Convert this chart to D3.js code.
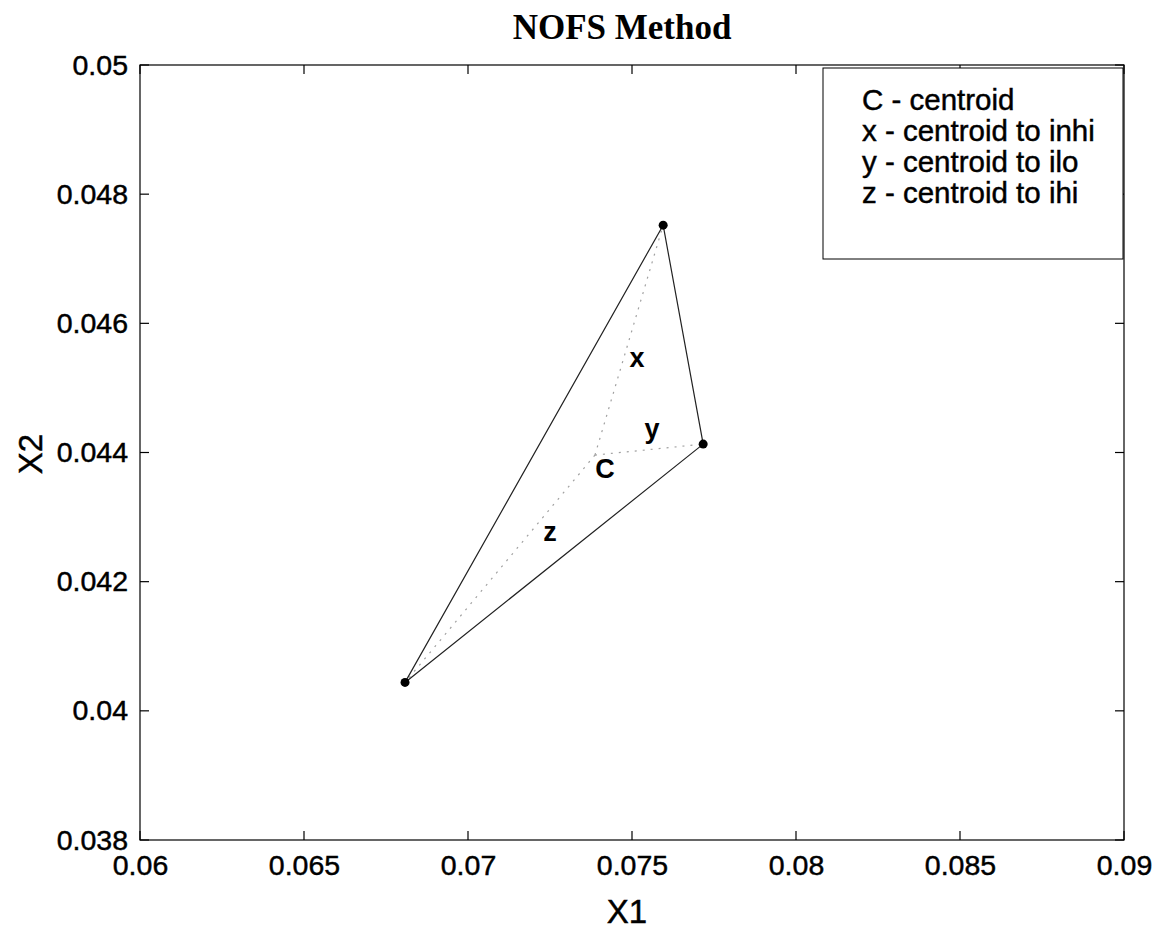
<!DOCTYPE html>
<html>
<head>
<meta charset="utf-8">
<script src="https://cdn.jsdelivr.net/npm/d3@7"></script>
<style>
  html, body { margin: 0; padding: 0; background: #fff; }
  svg { display: block; }
</style>
</head>
<body>
<svg id="chart" width="1160" height="931"></svg>
<script>
// ---- data ----
const xTicks = [0.06, 0.065, 0.07, 0.075, 0.08, 0.085, 0.09];
const yTicks = [0.038, 0.04, 0.042, 0.044, 0.046, 0.048, 0.05];
const xTickLabels = ["0.06", "0.065", "0.07", "0.075", "0.08", "0.085", "0.09"];
const yTickLabels = ["0.038", "0.04", "0.042", "0.044", "0.046", "0.048", "0.05"];
// simplex vertices: inhi (top), ilo (right), ihi (bottom-left)
const vertexNames = ["inhi", "ilo", "ihi"];
const vertexX = [0.07595, 0.07717, 0.06808];
const vertexY = [0.04752, 0.04413, 0.04044];
const centroid = [0.07387, 0.04396];
const markLabels = ["x", "y", "z", "C"];
const markLabelX = [0.07515, 0.07561, 0.0725, 0.07418];
const markLabelY = [0.04532, 0.04422, 0.04263, 0.04361];
const legendLines = ["C - centroid", "x - centroid to inhi", "y - centroid to ilo", "z - centroid to ihi"];
const title = "NOFS Method";
const xLabel = "X1";
const yLabel = "X2";

// ---- layout ----
const L = 140, R = 1124, T = 65, B = 840;
const svg = d3.select("#chart");
const x = d3.scaleLinear().domain([0.06, 0.09]).range([L, R]);
const y = d3.scaleLinear().domain([0.038, 0.05]).range([B, T]);
const sans = "Arial, 'Liberation Sans', Helvetica, sans-serif";
const heavy = sel => sel.attr("stroke", "#000").attr("stroke-width", 0.45);

// axes frame
svg.append("rect").attr("x", L).attr("y", T).attr("width", R - L).attr("height", B - T)
  .attr("fill", "none").attr("stroke", "#000").attr("stroke-width", 1.2);

const tickLen = 9;
const xAxis = d3.axisBottom(x).tickValues(xTicks).tickSize(0).tickPadding(15)
  .tickFormat((d, i) => xTickLabels[i]);
const gx = svg.append("g").attr("transform", `translate(0,${B})`).call(xAxis);
gx.select(".domain").remove();
gx.selectAll("text").attr("font-family", sans).attr("font-size", 28.5).attr("fill", "#000").call(heavy);

const yAxis = d3.axisLeft(y).tickValues(yTicks).tickSize(0).tickPadding(12)
  .tickFormat((d, i) => yTickLabels[i]);
const gy = svg.append("g").attr("transform", `translate(${L},0)`).call(yAxis);
gy.select(".domain").remove();
gy.selectAll("text").attr("font-family", sans).attr("font-size", 28.5).attr("fill", "#000").call(heavy);

// inward ticks on all four sides
const tk = svg.append("g").attr("stroke", "#000").attr("stroke-width", 1.2);
xTicks.forEach(v => {
  tk.append("line").attr("x1", x(v)).attr("x2", x(v)).attr("y1", B).attr("y2", B - tickLen);
  tk.append("line").attr("x1", x(v)).attr("x2", x(v)).attr("y1", T).attr("y2", T + tickLen);
});
yTicks.forEach(v => {
  tk.append("line").attr("x1", L).attr("x2", L + tickLen).attr("y1", y(v)).attr("y2", y(v));
  tk.append("line").attr("x1", R).attr("x2", R - tickLen).attr("y1", y(v)).attr("y2", y(v));
});

// dotted centroid lines
const dg = svg.append("g");
vertexX.forEach((vx, i) => {
  dg.append("line")
    .attr("x1", x(centroid[0])).attr("y1", y(centroid[1]))
    .attr("x2", x(vx)).attr("y2", y(vertexY[i]))
    .attr("stroke", "#a0a0a0").attr("stroke-width", 1.2).attr("stroke-dasharray", "2,6");
});

// triangle
const pts = vertexX.map((vx, i) => [x(vx), y(vertexY[i])]);
svg.append("path").attr("d", d3.line()(pts) + "Z")
  .attr("fill", "none").attr("stroke", "#222").attr("stroke-width", 1.2);

// vertex dots
svg.append("g").selectAll("circle").data(pts).join("circle")
  .attr("cx", d => d[0]).attr("cy", d => d[1]).attr("r", 4.5).attr("fill", "#000");

// mark labels
svg.append("g").selectAll("text").data(markLabels).join("text")
  .attr("x", (d, i) => x(markLabelX[i])).attr("y", (d, i) => y(markLabelY[i]))
  .attr("text-anchor", "middle").attr("font-family", sans).attr("font-size", 27)
  .attr("font-weight", "bold").attr("fill", "#000").text(d => d);

// legend
const lg = svg.append("g");
lg.append("rect").attr("x", 823).attr("y", 68).attr("width", 300).attr("height", 191)
  .attr("fill", "#fff").attr("stroke", "#000").attr("stroke-width", 1);
legendLines.forEach((t, i) => {
  lg.append("text").attr("x", 862).attr("y", 110 + i * 31)
    .attr("font-family", sans).attr("font-size", 29.5).attr("fill", "#000").call(heavy).text(t);
});

// title & axis labels
svg.append("text").attr("x", 622).attr("y", 39).attr("text-anchor", "middle")
  .attr("font-family", "'Times New Roman', 'Liberation Serif', serif").attr("font-weight", "bold")
  .attr("font-size", 35).attr("fill", "#000").text(title);
svg.append("text").attr("x", 627).attr("y", 923).attr("text-anchor", "middle")
  .attr("font-family", sans).attr("font-size", 33).attr("fill", "#000").call(heavy).text(xLabel);
svg.append("text").attr("transform", "translate(42,454) rotate(-90)").attr("text-anchor", "middle")
  .attr("font-family", sans).attr("font-size", 33).attr("fill", "#000").call(heavy).text(yLabel);
</script>
</body>
</html>
